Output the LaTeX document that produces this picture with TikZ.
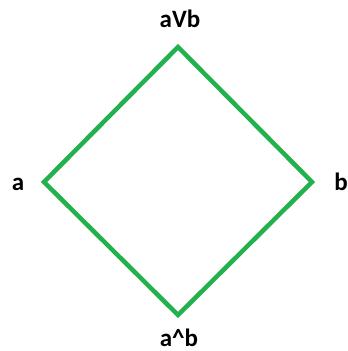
\documentclass[tikz,border=0pt]{standalone}
\usepackage{fontspec}
\setmainfont{Carlito}
\definecolor{paintgreen}{RGB}{34,177,76}
\begin{document}
\begin{tikzpicture}[x=1pt,y=-1pt,
  lbl/.style={font=\fontsize{25}{30}\selectfont\bfseries, text=black, inner sep=0pt, anchor=base, text depth=0pt},
  edge/.style={draw=paintgreen, line width=4.5pt, line join=miter, line cap=butt}]
\useasboundingbox[fill=white] (0,0) rectangle (348,351);
\coordinate (top) at (178,47);
\coordinate (left) at (44,182);
\coordinate (right) at (312,182);
\coordinate (bot) at (178,315);
\draw[edge] (top) -- (right) -- (bot) -- (left) -- cycle;
\node[lbl] (ltop) at (180,27) {aVb};
\node[lbl] (la) at (18,190) {a};
\node[lbl] (lb) at (341,190) {b};
\node[lbl] (lbot) at (179,346) {a\^{}b};
\end{tikzpicture}
\end{document}
